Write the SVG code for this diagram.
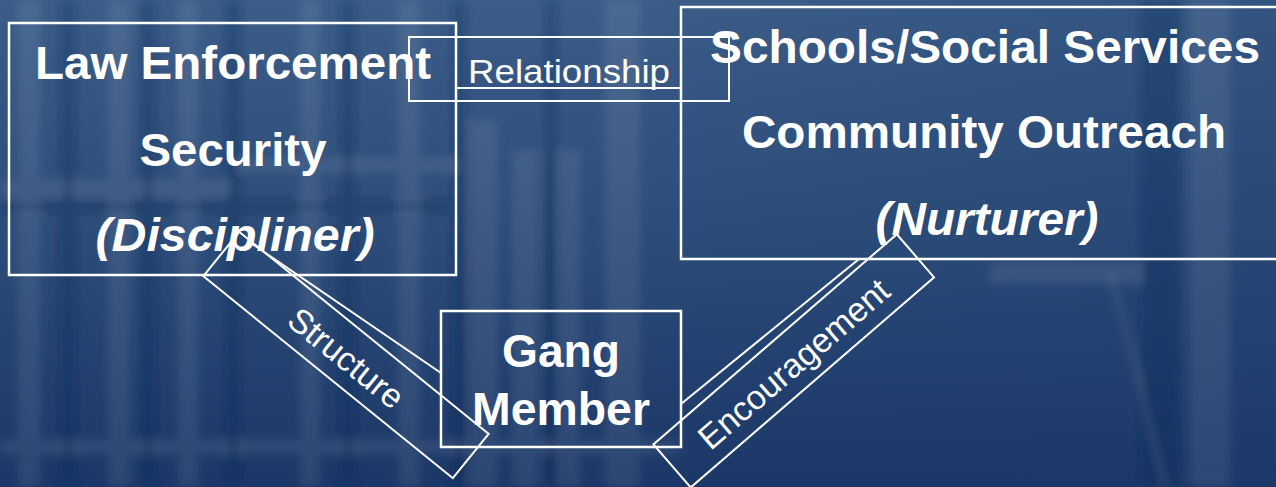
<svg xmlns="http://www.w3.org/2000/svg" width="1276" height="487" viewBox="0 0 1276 487">
  <defs>
    <linearGradient id="bg" x1="0" y1="0" x2="0" y2="1">
      <stop offset="0" stop-color="#3b5d88"/>
      <stop offset="0.5" stop-color="#2b4b78"/>
      <stop offset="1" stop-color="#1b3767"/>
    </linearGradient>
    <linearGradient id="bgr" x1="0" y1="0" x2="1" y2="0">
      <stop offset="0" stop-color="#1b3a6c" stop-opacity="0"/>
      <stop offset="1" stop-color="#1b3a6c" stop-opacity="0.25"/>
    </linearGradient>
    <filter id="blur" x="-10%" y="-10%" width="120%" height="120%">
      <feGaussianBlur stdDeviation="4"/>
    </filter>
    <style>
      .box { fill: none; stroke: #ffffff; stroke-width: 2.5; }
      .lbl { fill: none; stroke: #ffffff; stroke-width: 2; }
      .conn { stroke: #ffffff; stroke-width: 2; fill: none; }
      .big { fill: #ffffff; font-family: "Liberation Sans", Arial, sans-serif; font-weight: bold; font-size: 46px; text-anchor: middle; }
      .it { font-style: italic; }
      .small { fill: #ffffff; font-family: "Liberation Sans", Arial, sans-serif; font-size: 34px; text-anchor: middle; }
    </style>
  </defs>

  <!-- background (photo approximation) -->
  <g id="background">
    <rect x="0" y="0" width="1276" height="487" fill="url(#bg)"/>
    <rect x="640" y="0" width="636" height="487" fill="url(#bgr)"/>
    <g filter="url(#blur)">
      <g fill="#ffffff" opacity="0.08">
        <rect x="18" y="0" width="22" height="487"/>
        <rect x="108" y="0" width="22" height="487"/>
        <rect x="178" y="0" width="20" height="487"/>
        <rect x="300" y="0" width="20" height="487"/>
        <rect x="398" y="0" width="22" height="487"/>
        <rect x="470" y="120" width="28" height="367"/>
        <rect x="512" y="150" width="26" height="337"/>
        <rect x="560" y="150" width="20" height="337"/>
        <rect x="605" y="0" width="35" height="487"/>
        <rect x="1190" y="0" width="40" height="487"/>
        <rect x="990" y="262" width="150" height="22"/>
        <rect x="0" y="180" width="230" height="16"/>
        <rect x="240" y="158" width="220" height="14"/>
        <rect x="0" y="440" width="680" height="14"/>
      </g>
      <g fill="#0f2550" opacity="0.25">
        <rect x="60" y="0" width="16" height="487"/>
        <rect x="140" y="0" width="16" height="487"/>
        <rect x="225" y="0" width="16" height="487"/>
        <rect x="340" y="0" width="16" height="487"/>
        <rect x="452" y="0" width="14" height="487"/>
        <rect x="545" y="0" width="12" height="487"/>
        <rect x="1140" y="0" width="40" height="487"/>
        <rect x="0" y="200" width="460" height="12"/>
      </g>
      <line x1="1110" y1="270" x2="1165" y2="487" stroke="#ffffff" stroke-opacity="0.1" stroke-width="4"/>
    </g>
  </g>

  <!-- connectors -->
  <g id="connectors">
    <line class="conn" x1="457" y1="88" x2="681" y2="88"/>
    <line class="conn" x1="248" y1="241" x2="441" y2="373"/>
    <line class="conn" x1="859" y1="259" x2="681" y2="404"/>
  </g>

  <!-- nodes -->
  <g id="law-enforcement">
    <rect class="box" x="9" y="23" width="447" height="252"/>
    <text class="big" x="233" y="79" textLength="396" lengthAdjust="spacingAndGlyphs">Law Enforcement</text>
    <text class="big" x="233" y="166" textLength="187" lengthAdjust="spacingAndGlyphs">Security</text>
    <text class="big it" x="235" y="251" textLength="279" lengthAdjust="spacingAndGlyphs">(Discipliner)</text>
  </g>

  <g id="schools">
    <rect class="box" x="681" y="7" width="608" height="252"/>
    <text class="big" x="985" y="63" textLength="550" lengthAdjust="spacingAndGlyphs">Schools/Social Services</text>
    <text class="big" x="984" y="148" textLength="484" lengthAdjust="spacingAndGlyphs">Community Outreach</text>
    <text class="big it" x="987" y="235" textLength="223" lengthAdjust="spacingAndGlyphs">(Nurturer)</text>
  </g>

  <g id="gang-member">
    <rect class="box" x="441" y="311" width="240" height="136"/>
    <text class="big" x="561" y="367" textLength="118" lengthAdjust="spacingAndGlyphs">Gang</text>
    <text class="big" x="561" y="425" textLength="178" lengthAdjust="spacingAndGlyphs">Member</text>
  </g>

  <g id="label-relationship">
    <rect class="lbl" x="409" y="37" width="320" height="64"/>
    <text class="small" x="569" y="83" textLength="202" lengthAdjust="spacingAndGlyphs">Relationship</text>
  </g>

  <g id="label-structure" transform="translate(346,355) rotate(39)">
    <rect class="lbl" x="-160.5" y="-28.5" width="321" height="57"/>
    <text class="small" x="2" y="14">Structure</text>
  </g>

  <g id="label-encouragement" transform="translate(793.75,360.85) rotate(-40.8)">
    <rect class="lbl" x="-160.75" y="-28.5" width="321.5" height="57"/>
    <text class="small" x="-2" y="14" font-size="33">Encouragement</text>
  </g>
</svg>
